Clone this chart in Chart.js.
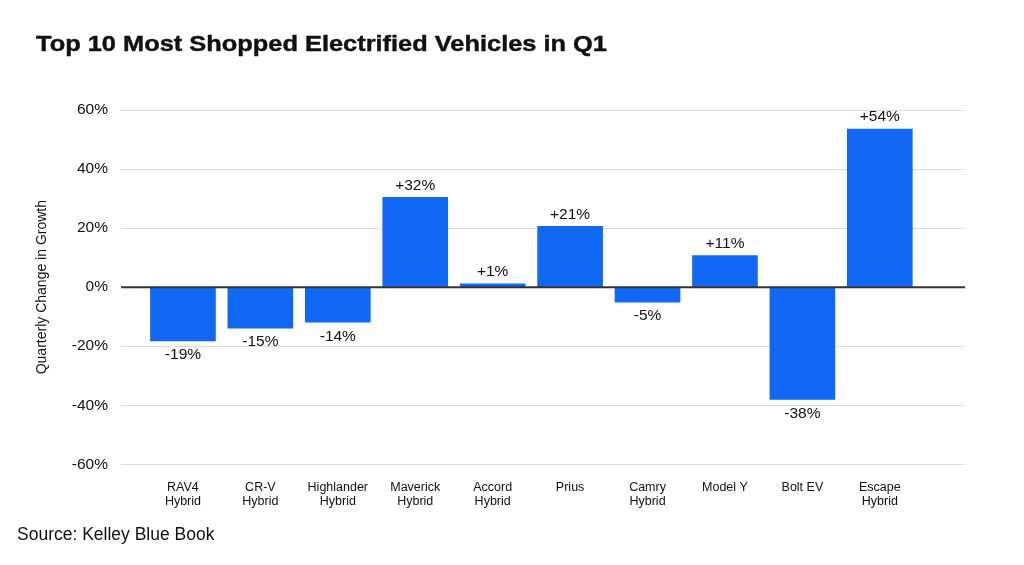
<!DOCTYPE html>
<html>
<head>
<meta charset="utf-8">
<script src="https://cdn.jsdelivr.net/npm/chart.js@4.4.1/dist/chart.umd.min.js"></script>
<style>
  html, body { margin: 0; padding: 0; background: #fff; }
  #wrap { position: relative; width: 1024px; height: 565px; overflow: hidden; }
  #title { position: absolute; left: 36px; top: 32px; font: 700 21.5px 'Liberation Sans', Arial, sans-serif; color: #111; white-space: nowrap; transform-origin: 0 0; -webkit-text-stroke: 0.4px #111; }
  #source { position: absolute; left: 17px; top: 524px; font: 400 17.5px 'Liberation Sans', Arial, sans-serif; color: #111; white-space: nowrap; }
  canvas { position: absolute; left: 0; top: 0; }
</style>
</head>
<body>
<div id="wrap">
  <canvas id="c" width="1024" height="565"></canvas>
  <div id="title">Top 10 Most Shopped Electrified Vehicles in Q1</div>
  <div id="source">Source: Kelley Blue Book</div>
</div>
<script>
const categories = [
  ["RAV4", "Hybrid"], ["CR-V", "Hybrid"], ["Highlander", "Hybrid"], ["Maverick", "Hybrid"],
  ["Accord", "Hybrid"], ["Prius"], ["Camry", "Hybrid"], ["Model Y"], ["Bolt EV"], ["Escape", "Hybrid"]
];
const growthValues = [-18.2, -13.9, -11.9, 30.4, 1.1, 20.6, -5.1, 10.7, -38.0, 53.5];
const valueLabels = ["-19%", "-15%", "-14%", "+32%", "+1%", "+21%", "-5%", "+11%", "-38%", "+54%"];
const yTicks = [-60, -40, -20, 0, 20, 40, 60];

const FONT = "'Liberation Sans', Arial, sans-serif";

// the reference title uses a wide face: stretch horizontally to ~571px
(function fitTitle() {
  const t = document.getElementById('title');
  const w = t.getBoundingClientRect().width;
  t.style.transform = 'scaleX(' + (571 / w) + ')';
})();

const labelPlugin = {
  id: 'valueLabels',
  afterDatasetsDraw(chart) {
    const ctx = chart.ctx;
    const y = chart.scales.y;
    const area = chart.chartArea;
    const y0 = y.getPixelForValue(0);
    ctx.save();
    ctx.strokeStyle = '#333';
    ctx.lineWidth = 2;
    ctx.beginPath();
    ctx.moveTo(area.left, y0);
    ctx.lineTo(area.right, y0);
    ctx.stroke();
    ctx.font = "400 15.5px " + FONT;
    ctx.fillStyle = '#111';
    ctx.textAlign = 'center';
    ctx.textBaseline = 'middle';
    const meta = chart.getDatasetMeta(0);
    meta.data.forEach((bar, i) => {
      const v = growthValues[i];
      const ty = v >= 0 ? bar.y - 12 : bar.y + 14;
      ctx.fillText(valueLabels[i], bar.x, ty);
    });
    ctx.restore();
  }
};

new Chart(document.getElementById('c'), {
  type: 'bar',
  data: {
    datasets: [{
      data: growthValues.map((v, i) => ({ x: i, y: v })),
      backgroundColor: '#1068f5',
      borderWidth: 0,
      barThickness: 65
    }]
  },
  options: {
    responsive: false,
    animation: false,
    devicePixelRatio: 1,
    layout: { padding: { left: 0, right: 59, top: 110, bottom: 0 } },
    plugins: { legend: { display: false }, tooltip: { enabled: false } },
    scales: {
      x: {
        type: 'linear',
        offset: false,
        min: -0.8,
        max: 10.1,
        grid: { display: false, drawTicks: false },
        border: { display: false },
        afterBuildTicks(scale) { scale.ticks = categories.map((_, i) => ({ value: i })); },
        afterFit(scale) { scale.height = 100.7; },
        ticks: {
          padding: 16,
          autoSkip: false,
          maxRotation: 0,
          color: '#111',
          font: { family: FONT, size: 12.5, lineHeight: 1.15 },
          callback: (v) => categories[v] || ''
        }
      },
      y: {
        min: -60,
        max: 60,
        afterBuildTicks(scale) { scale.ticks = yTicks.map(v => ({ value: v })); },
        afterFit(scale) { scale.width = 121; },
        grid: { color: '#dedede', lineWidth: 1, drawTicks: false },
        border: { display: false },
        ticks: {
          padding: 13,
          color: '#111',
          font: { family: FONT, size: 15.5 },
          callback: (v) => v + '%'
        },
        title: {
          display: true,
          text: 'Quarterly Change in Growth',
          color: '#111',
          font: { family: FONT, size: 14 },
          padding: { top: 34, bottom: 0 }
        }
      }
    }
  },
  plugins: [labelPlugin]
});
</script>
</body>
</html>
